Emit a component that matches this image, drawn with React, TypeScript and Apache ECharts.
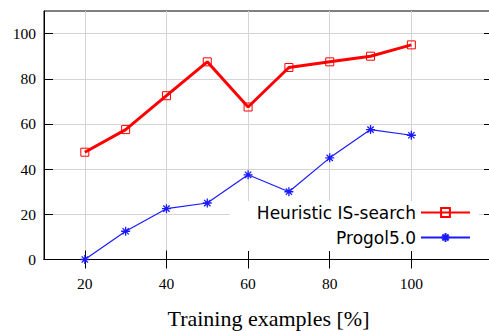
import React, { useEffect, useRef } from "react";
import * as echarts from "echarts";

const xValues = [20, 30, 40, 50, 60, 70, 80, 90, 100];
const heuristic = [47.5, 57.5, 72.5, 87.5, 67.5, 85, 87.5, 90, 95];
const progol = [0, 12.5, 22.5, 25, 37.5, 30, 45, 57.5, 55];
const xTicks = [20, 40, 60, 80, 100];
const yTicks = [0, 20, 40, 60, 80, 100];

const asterisk =
  "path://M5,0L5,10M0,5L10,5M1.5,1.5L8.5,8.5M1.5,8.5L8.5,1.5";

export default function App() {
  const ref = useRef<HTMLDivElement>(null);
  useEffect(() => {
    const chart = echarts.init(ref.current!, null, { renderer: "svg" });
    const serif = "Liberation Serif";
    const tickStyle = { color: "#000", width: 1 };
    chart.setOption({
      animation: false,
      backgroundColor: "#fff",
      grid: {
        left: 44,
        top: 11,
        right: -4,
        bottom: 71.5,
        show: true,
        borderColor: "#000",
        borderWidth: 1,
        backgroundColor: "transparent",
        containLabel: false,
        outerBoundsMode: "none",
      },
      xAxis: [
        {
          type: "value",
          min: 10,
          max: 120,
          name: "Training examples [%]",
          nameLocation: "middle",
          nameGap: 48,
          nameTextStyle: { fontFamily: serif, fontSize: 22, color: "#000" },
          axisLine: { show: true, lineStyle: { color: "#000" } },
          axisTick: { show: true, inside: true, length: 9, lineStyle: tickStyle, customValues: xTicks },
          axisLabel: { fontFamily: serif, fontSize: 15.5, color: "#000", margin: 16, customValues: xTicks },
          splitLine: { show: true, lineStyle: { color: "#d4d4d4", width: 1 } },
        },
        {
          type: "value",
          position: "top",
          min: 10,
          max: 120,
          axisLine: { show: true, lineStyle: { color: "#000" } },
          axisTick: { show: true, inside: true, length: 9, lineStyle: tickStyle, customValues: xTicks },
          axisLabel: { show: false, customValues: xTicks },
          splitLine: { show: false },
        },
      ],
      yAxis: [
        {
          type: "value",
          min: 0,
          max: 110,
          axisLine: { show: true, lineStyle: { color: "#000" } },
          axisTick: { show: true, inside: true, length: 9, lineStyle: tickStyle, customValues: yTicks },
          axisLabel: { fontFamily: serif, fontSize: 15.5, color: "#000", margin: 8, customValues: yTicks },
          splitLine: { show: true, lineStyle: { color: "#d4d4d4", width: 1 } },
        },
        {
          type: "value",
          position: "right",
          min: 0,
          max: 110,
          axisLine: { show: true, lineStyle: { color: "#000" } },
          axisTick: { show: true, inside: true, length: 9, lineStyle: tickStyle, customValues: yTicks },
          axisLabel: { show: false, customValues: yTicks },
          splitLine: { show: false },
        },
      ],
      legend: {
        orient: "vertical",
        align: "right",
        right: 10,
        top: 201,
        itemWidth: 49,
        itemHeight: 11,
        itemGap: 8,
        backgroundColor: "#fff",
        padding: [3, 8, 5, 27],
        textStyle: { fontFamily: "DejaVu Sans", fontSize: 17, color: "#000" },
        data: ["Heuristic IS-search", "Progol5.0"],
      },
      series: [
        {
          name: "Heuristic IS-search",
          type: "line",
          data: xValues.map((x, i) => [x, heuristic[i]]),
          symbol: "rect",
          symbolSize: 8,
          lineStyle: { color: "#ff0000", width: 3 },
          itemStyle: { color: "rgba(255,255,255,0)", borderColor: "#ff0000", borderWidth: 1 },
          z: 3,
        },
        {
          name: "Progol5.0",
          type: "line",
          data: xValues.map((x, i) => [x, progol[i]]),
          symbol: asterisk,
          symbolSize: 9,
          lineStyle: { color: "#1a1aff", width: 1.2 },
          itemStyle: { color: "#1a1aff", borderColor: "#1a1aff", borderWidth: 1.3 },
          z: 3,
        },
      ],
    });
    return () => chart.dispose();
  }, []);
  return (
    <div
      ref={ref}
      style={{ position: "absolute", left: 0, top: 0, width: 489, height: 331 }}
    />
  );
}
